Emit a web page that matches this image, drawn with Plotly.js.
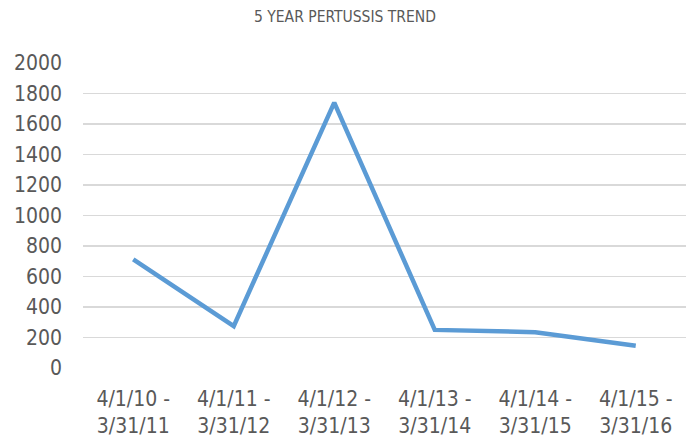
<!DOCTYPE html>
<html>
<head>
<meta charset="utf-8">
<script src="https://cdn.plot.ly/plotly-3.0.1.min.js"></script>
<style>html,body{margin:0;padding:0;background:#fff;}#chart{width:690px;height:441px;}</style>
</head>
<body>
<div id="chart"></div>
<script>
const categories = ["4/1/10 -<br>3/31/11", "4/1/11 -<br>3/31/12", "4/1/12 -<br>3/31/13", "4/1/13 -<br>3/31/14", "4/1/14 -<br>3/31/15", "4/1/15 -<br>3/31/16"];
const cases = [712, 275, 1740, 250, 235, 146];
const yTicks = [0, 200, 400, 600, 800, 1000, 1200, 1400, 1600, 1800, 2000];
const chartTitle = "5 YEAR PERTUSSIS TREND";

const font = '"DejaVu Sans Condensed", "Liberation Sans", sans-serif';

Plotly.newPlot('chart', [{
  x: categories,
  y: cases,
  type: 'scatter',
  mode: 'lines',
  line: {color: '#5B9BD5', width: 4.5},
  hoverinfo: 'skip'
}], {
  width: 690, height: 441,
  margin: {l: 83, r: 4, t: 63, b: 73},
  paper_bgcolor: '#ffffff',
  plot_bgcolor: '#ffffff',
  showlegend: false,
  title: {text: chartTitle, font: {family: font, size: 15.5, color: '#595959'}, x: 0.5, xanchor: 'center', y: 0.962, yanchor: 'middle'},
  xaxis: {
    type: 'category',
    range: [-0.5, 5.5],
    showgrid: false, zeroline: false, showline: false,
    ticks: '',
    ticklabelstandoff: 16,
    tickfont: {family: font, size: 21, color: '#595959'},
    automargin: false
  },
  yaxis: {
    range: [0, 2000],
    tickvals: yTicks,
    ticktext: yTicks.map(String),
    showgrid: true, gridcolor: '#D9D9D9', gridwidth: 1.5,
    zeroline: false, showline: false,
    ticks: '',
    ticklabelstandoff: 20,
    tickfont: {family: font, size: 21, color: '#595959'},
    automargin: false
  }
}, {staticPlot: true});
</script>
</body>
</html>
